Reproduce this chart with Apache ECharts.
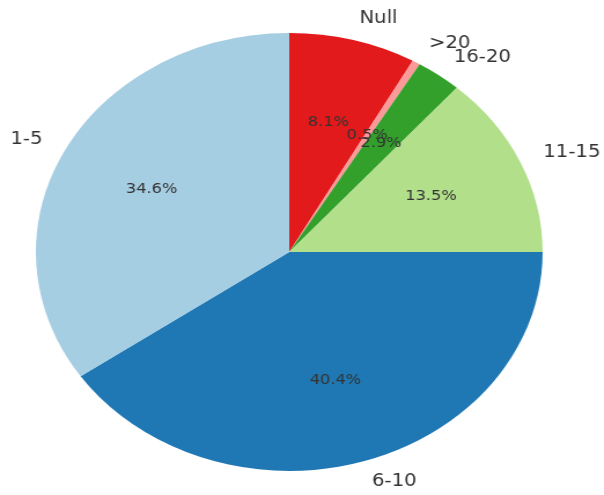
<!DOCTYPE html>
<html>
<head>
<meta charset="utf-8">
<script src="https://cdn.jsdelivr.net/npm/echarts@6.0.0/dist/echarts.min.js"></script>
<style>
html,body{margin:0;padding:0;background:#fff;overflow:hidden;}
#wrap{width:604px;height:495px;overflow:hidden;position:relative;}
#chart{width:522px;height:495px;transform:scaleX(1.157);transform-origin:0 0;}
</style>
</head>
<body>
<div id="wrap"><div id="chart"></div></div>
<script>
const categories = ['Null', '>20', '16-20', '11-15', '6-10', '1-5'];
const values = [8.1, 0.5, 2.9, 13.5, 40.4, 34.6];
const colors = ['#e31a1c', '#fb9a99', '#33a02c', '#b2df8a', '#1f78b4', '#a6cee3'];

const R = 219;
const center = [250, 252];
const data = categories.map((c, i) => ({ name: c, value: values[i], itemStyle: { color: colors[i] } }));
const ghost = categories.map((c, i) => ({ name: c, value: values[i] }));

const chart = echarts.init(document.getElementById('chart'), null, { renderer: 'canvas' });
chart.setOption({
  animation: false,
  backgroundColor: '#ffffff',
  series: [
    {
      type: 'pie',
      radius: [0, R],
      center: center,
      startAngle: 90,
      clockwise: true,
      avoidLabelOverlap: false,
      minShowLabelAngle: 0,
      silent: true,
      data: data,
      itemStyle: { borderWidth: 0 },
      label: {
        show: true,
        position: 'outside',
        alignTo: 'none',
        formatter: '{b}',
        fontFamily: 'DejaVu Sans',
        fontSize: 17,
        color: '#333333',
        distanceToLabelLine: 0
      },
      labelLine: { show: false, length: R * 0.1, length2: 0 },
      labelLayout: { hideOverlap: false },
      emphasis: { disabled: true }
    },
    {
      type: 'pie',
      radius: [0, R * 1.2],
      center: center,
      startAngle: 90,
      clockwise: true,
      avoidLabelOverlap: false,
      minShowLabelAngle: 0,
      silent: true,
      data: ghost,
      itemStyle: { color: 'rgba(0,0,0,0)', borderWidth: 0 },
      label: {
        show: true,
        position: 'inside',
        formatter: '{c}%',
        fontFamily: 'DejaVu Sans',
        fontSize: 14,
        color: '#333333'
      },
      labelLine: { show: false },
      labelLayout: { hideOverlap: false },
      emphasis: { disabled: true }
    }
  ]
});
</script>
</body>
</html>
